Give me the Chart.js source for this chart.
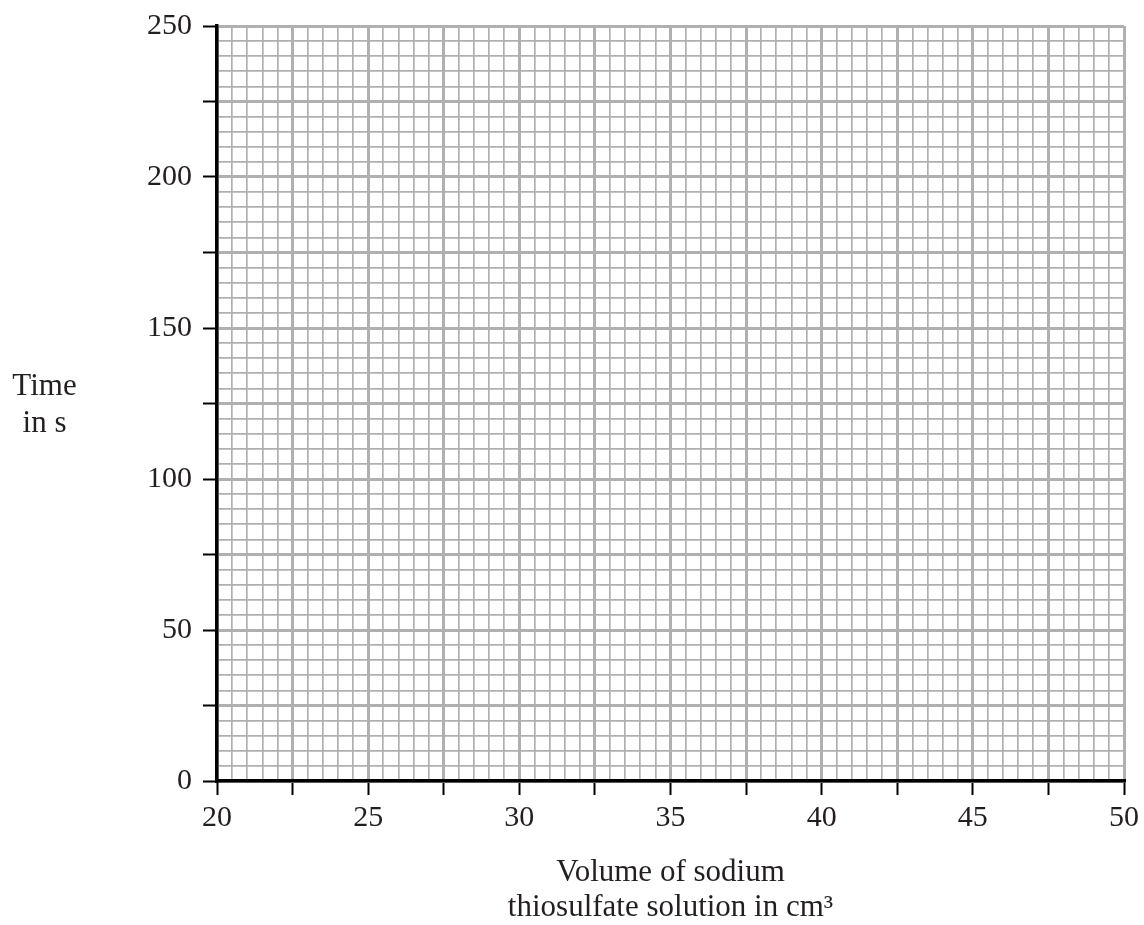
<!DOCTYPE html>
<html>
<head>
<meta charset="utf-8">
<script src="https://cdn.jsdelivr.net/npm/chart.js@4.4.1/dist/chart.umd.min.js"></script>
<style>
  html, body { margin: 0; padding: 0; background: #ffffff; }
  #wrap { width: 1144px; height: 925px; position: relative; }
</style>
</head>
<body>
<div id="wrap"><canvas id="c"></canvas></div>
<script>
// ---- data (empty graph paper: no plotted values) ----
const xLabels = [20, 25, 30, 35, 40, 45, 50];
const yLabels = [0, 50, 100, 150, 200, 250];
const seriesPoints = [];          // no data plotted on the grid
const xTitleLines = ['Volume of sodium', 'thiosulfate solution in cm\u00B3'];
const yTitleLines = ['Time', 'in s'];

const TEXT = '#231f20';
const GRID = '#b0b0b0';
const FONT = 'Liberation Serif';

function isMult(v, m) {
  const q = v / m;
  return Math.abs(q - Math.round(q)) < 1e-9;
}

const yTitlePlugin = {
  id: 'yTitle',
  afterDraw(chart) {
    const ctx = chart.ctx;
    const ca = chart.chartArea;
    const cy = (ca.top + ca.bottom) / 2;
    ctx.save();
    ctx.font = '31px "' + FONT + '"';
    ctx.fillStyle = TEXT;
    ctx.textAlign = 'center';
    ctx.textBaseline = 'alphabetic';
    ctx.fillText(yTitleLines[0], 44.5, cy - 9);
    ctx.fillText(yTitleLines[1], 44.5, cy + 28);
    ctx.restore();
  }
};

new Chart(document.getElementById('c'), {
  type: 'scatter',
  data: {
    datasets: [{ data: seriesPoints, pointRadius: 0 }]
  },
  options: {
    responsive: true,
    maintainAspectRatio: false,
    animation: false,
    layout: { padding: { left: 0, right: 19, top: 24, bottom: 0 } },
    plugins: {
      legend: { display: false },
      tooltip: { enabled: false }
    },
    scales: {
      x: {
        type: 'linear',
        min: 20,
        max: 50,
        afterFit(s) { s.height = 144; },
        ticks: {
          stepSize: 0.5,
          autoSkip: false,
          maxRotation: 0,
          padding: 5,
          color: TEXT,
          font: { family: FONT, size: 30 },
          callback: (v) => xLabels.some(l => Math.abs(l - v) < 1e-9) ? String(v) : ''
        },
        grid: {
          color: GRID,
          lineWidth: (ctx) => (ctx.tick && isMult(ctx.tick.value, 2.5)) ? 3 : 1.7,
          drawTicks: true,
          tickLength: 14,
          tickWidth: 2,
          tickColor: (ctx) => (ctx.tick && isMult(ctx.tick.value, 2.5)) ? '#000000' : 'rgba(0,0,0,0)'
        },
        border: { display: true, color: '#000000', width: 3.5 },
        title: {
          display: true,
          text: xTitleLines,
          color: TEXT,
          font: { family: FONT, size: 31, lineHeight: 1.13 },
          padding: { top: 0, bottom: 0 }
        }
      },
      y: {
        type: 'linear',
        min: 0,
        max: 250,
        afterFit(s) { s.width = 217; },
        ticks: {
          stepSize: 5,
          autoSkip: false,
          padding: 11,
          color: TEXT,
          font: { family: FONT, size: 30, lineHeight: 1.0 },
          callback: (v) => yLabels.some(l => Math.abs(l - v) < 1e-9) ? String(v) : ''
        },
        grid: {
          color: GRID,
          lineWidth: (ctx) => (ctx.tick && isMult(ctx.tick.value, 25)) ? 3 : 1.7,
          drawTicks: true,
          tickLength: 14,
          tickWidth: 2,
          tickColor: (ctx) => (ctx.tick && isMult(ctx.tick.value, 25)) ? '#000000' : 'rgba(0,0,0,0)'
        },
        border: { display: true, color: '#000000', width: 3.5 }
      }
    }
  },
  plugins: [yTitlePlugin]
});
</script>
</body>
</html>
